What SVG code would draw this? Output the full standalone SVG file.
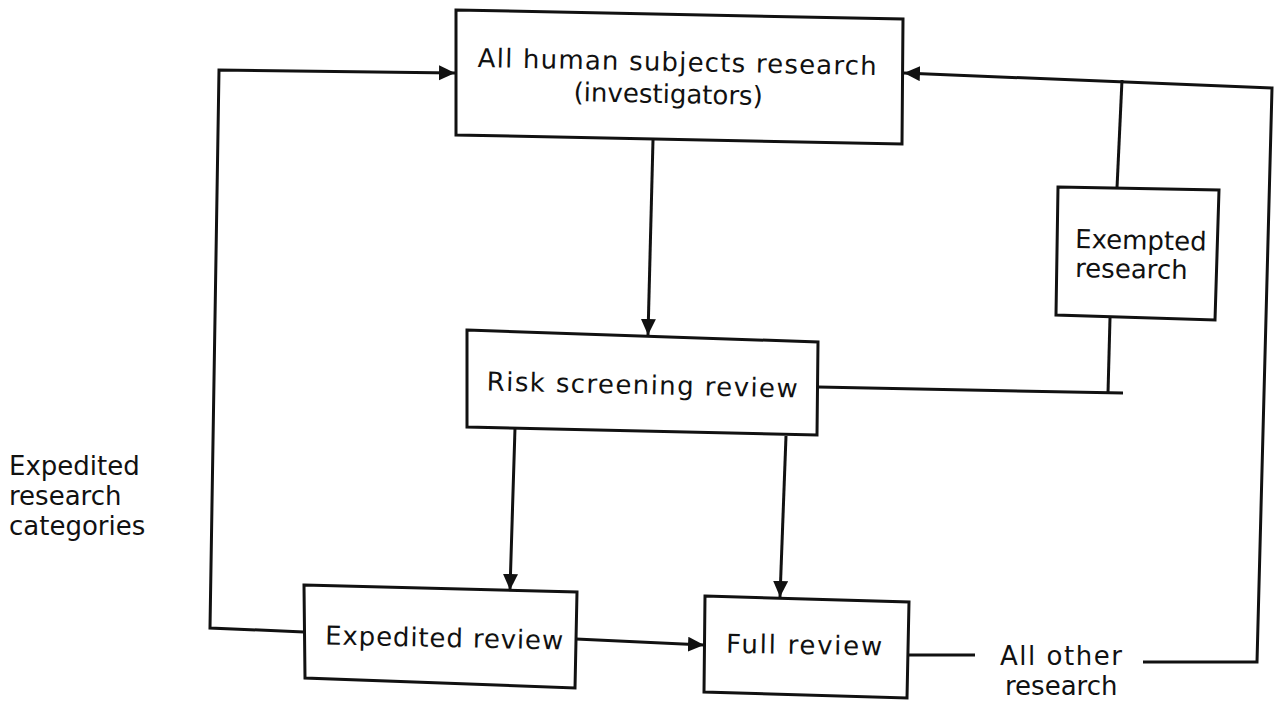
<svg xmlns="http://www.w3.org/2000/svg" width="1279" height="703" viewBox="0 0 1279 703">
<defs>
<marker id="arr" markerUnits="userSpaceOnUse" markerWidth="18" markerHeight="16" refX="16" refY="7.5" orient="auto">
<path d="M0,0 L16,7.5 L0,15 z" fill="#111"/>
</marker>
<style>
.box{fill:none;stroke:#111;stroke-width:3;stroke-linejoin:miter}
.ln{fill:none;stroke:#111;stroke-width:3}
text{font-family:"DejaVu Sans","Liberation Sans",sans-serif;font-size:26px;fill:#111}
.c{text-anchor:middle}
</style>
</defs>
<rect width="1279" height="703" fill="#ffffff"/>
<g id="connectors">
<polyline class="ln" points="304,632 210,628 219,70 455,73" marker-end="url(#arr)"/>
<line class="ln" x1="653" y1="140" x2="648" y2="335" marker-end="url(#arr)"/>
<line class="ln" x1="908" y1="655" x2="975" y2="655"/>
<polyline class="ln" points="1143,662 1257,662 1272,88 904,73" marker-end="url(#arr)"/>
<line class="ln" x1="1122" y1="80" x2="1117" y2="188"/>
<line class="ln" x1="1110" y1="318" x2="1108" y2="393"/>
<line class="ln" x1="818" y1="387" x2="1123" y2="393"/>
<line class="ln" x1="515" y1="428" x2="510" y2="590" marker-end="url(#arr)"/>
<line class="ln" x1="786" y1="436" x2="780" y2="597" marker-end="url(#arr)"/>
<line class="ln" x1="576" y1="639" x2="704" y2="645" marker-end="url(#arr)"/>
</g>
<g id="node-all">
<polygon class="box" points="456,10 903,19 902,144 456,135"/>
<text class="c" x="677" y="71" transform="rotate(1.15 677 71)" textLength="399" lengthAdjust="spacing">All human subjects research</text>
<text class="c" x="668" y="103" transform="rotate(1.15 668 103)">(investigators)</text>
</g>
<g id="node-risk">
<polygon class="box" points="467,330 818,342 817,435 467,427"/>
<text class="c" x="642" y="394" transform="rotate(1.3 642 394)" textLength="311" lengthAdjust="spacing">Risk screening review</text>
</g>
<g id="node-exempted">
<polygon class="box" points="1058,187 1219,190 1215,320 1056,315"/>
<text x="1075" y="248" transform="rotate(1.1 1075 248)">Exempted</text>
<text x="1075" y="277" transform="rotate(1.1 1075 277)">research</text>
</g>
<g id="node-expedited">
<polygon class="box" points="304,585 577,592 575,688 305,678"/>
<text class="c" x="444" y="647" transform="rotate(1.2 444 647)" textLength="238" lengthAdjust="spacing">Expedited review</text>
</g>
<g id="node-full">
<polygon class="box" points="705,596 909,602 907,698 704,692"/>
<text class="c" x="804" y="654" transform="rotate(1 804 654)" textLength="156" lengthAdjust="spacing">Full review</text>
</g>
<g id="label-other">
<text x="1000" y="665" textLength="122" lengthAdjust="spacing">All other</text>
<text x="1005" y="695">research</text>
</g>
<g id="label-expedited-categories">
<text x="9" y="475">Expedited</text>
<text x="9" y="505">research</text>
<text x="9" y="535">categories</text>
</g>
</svg>
